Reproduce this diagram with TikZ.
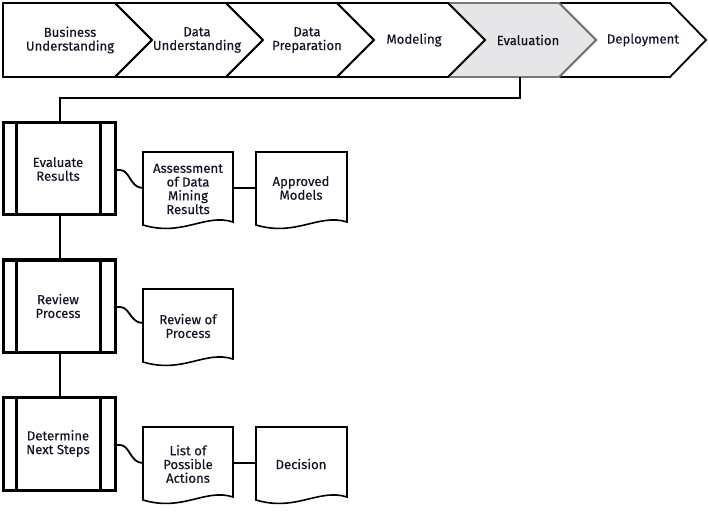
\documentclass[tikz,border=0pt]{standalone}
\usepackage{fontspec}
\setmainfont{Fira Sans}[UprightFeatures={FakeBold=0.3}]
\definecolor{txt}{RGB}{20,20,40}
\definecolor{evalfill}{RGB}{230,230,232}
\definecolor{evalline}{RGB}{120,120,120}
\begin{document}
\begin{tikzpicture}[x=1bp,y=-1bp,
  lbl/.style={font=\fontsize{13.2}{13.8}\selectfont,text=txt,align=center,inner sep=0pt},
  chev/.style={draw=black,line width=1.8bp,line join=miter,fill=white},
  proc/.style={draw=black,line width=3bp,fill=white},
  doc/.style={draw=black,line width=1.6bp,fill=white},
  conn/.style={draw=black,line width=1.8bp}]
\useasboundingbox (0,0) rectangle (708,512);
% chevrons
\draw[chev] (3,3) -- (115,3) -- (152,40) -- (115,77) -- (3,77) -- cycle;
\draw[chev] (115,3) -- (226,3) -- (263,40) -- (226,77) -- (115,77) -- (152,40) -- cycle;
\draw[chev] (226,3) -- (337,3) -- (374,40) -- (337,77) -- (226,77) -- (263,40) -- cycle;
\draw[chev] (559,3) -- (670,3) -- (706,40) -- (670,77) -- (559,77) -- (596,40) -- cycle;
\draw[chev,draw=evalline,fill=evalfill] (448,3) -- (559,3) -- (596,40) -- (559,77) -- (448,77) -- (485,40) -- cycle;
\draw[chev] (337,77) -- (374,40) -- (337,3) -- (448,3) -- (485,40) -- (448,77) -- cycle;
\node[lbl] (bu) at (70,40) {Business\\Understanding};
\node[lbl] (du) at (197,40) {Data\\Understanding};
\node[lbl] (dp) at (307,40) {Data\\Preparation};
\node[lbl] (mo) at (414,40) {Modeling};
\node[lbl] (ev) at (528,40) {Evaluation};
\node[lbl] (de) at (643,40) {Deployment};
\coordinate (evb) at (520,77);
% process boxes
\foreach \nm/\t/\b/\txt in {er/123/215/{Evaluate\\Results},rp/260/352/{Review\\Process},nd/397/490/{Determine\\Next Steps}}{
  \draw[proc] (3,\t) rectangle (115,\b);
  \draw[line width=3bp] (16,\t) -- (16,\b) (100,\t) -- (100,\b);
  \node[lbl,minimum width=112bp,minimum height=92bp] (\nm) at (58,{(\t+\b)/2}) {\txt};
}
% documents
\newcommand{\docshape}[4]{% left top right bottom
  \draw[doc] (#1,#2) -- (#3,#2) -- (#3,#4-3) .. controls (#3-28,#4-12) and (#1+40,#4+12) .. (#1,#4) -- cycle;}
\docshape{143}{152}{233}{225}
\docshape{256}{152}{347}{225}
\docshape{143}{289}{233}{362}
\docshape{143}{427}{233}{500}
\docshape{256}{427}{347}{500}
\node[lbl] (d1) at (188,189) {Assessment\\of Data\\Mining\\Results};
\node[lbl] (d2) at (301,188) {Approved\\Models};
\node[lbl] (d3) at (188,326) {Review of\\Process};
\node[lbl] (d4) at (188,464) {List of\\Possible\\Actions};
\node[lbl] (d5) at (301,464) {Decision};
\coordinate (d1w) at (143,188);
\coordinate (d1e) at (233,188);
\coordinate (d2w) at (256,188);
\coordinate (d3w) at (143,323);
\coordinate (d4w) at (143,463);
\coordinate (d4e) at (233,463);
\coordinate (d5w) at (256,463);
% connectors
\draw[conn] (evb) -- (520,98) -- (60,98) -- (60,123);
\draw[conn] (60,215) -- (60,260);
\draw[conn] (60,352) -- (60,397);
\draw[conn] (115,170) -- (120,170) .. controls (130,170) and (130,188) .. (d1w);
\draw[conn] (115,307) -- (120,307) .. controls (130,307) and (130,323) .. (d3w);
\draw[conn] (115,445) -- (120,445) .. controls (130,445) and (130,463) .. (d4w);
\draw[conn] (d1e) -- (d2w);
\draw[conn] (d4e) -- (d5w);
\end{tikzpicture}
\end{document}
